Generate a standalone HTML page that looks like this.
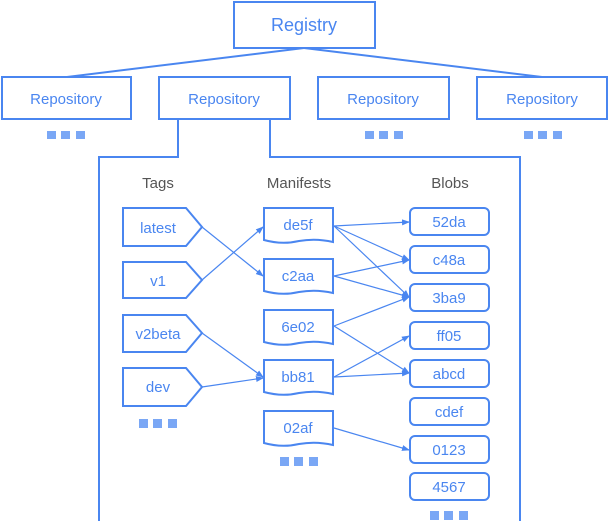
<!DOCTYPE html>
<html><head><style>
body{margin:0;background:#fff}
svg{display:block}
text{font-family:"Liberation Sans",sans-serif}
</style></head><body>
<svg width="609" height="521" viewBox="0 0 609 521" xmlns="http://www.w3.org/2000/svg">
<defs>
<marker id="a" markerWidth="8" markerHeight="8" refX="7" refY="4" orient="auto" markerUnits="userSpaceOnUse">
<path d="M0,1 L8,4 L0,7 z" fill="#4a86f0"/>
</marker>
</defs>
<g fill="none" stroke="#4a86f0" stroke-width="2">
<rect x="234" y="2" width="141" height="46"/>
<line x1="304" y1="48" x2="67" y2="77"/>
<line x1="304" y1="48" x2="542" y2="77"/>
<rect x="2" y="77" width="129" height="42"/>
<rect x="159" y="77" width="131" height="42"/>
<rect x="318" y="77" width="131" height="42"/>
<rect x="477" y="77" width="130" height="42"/>
<polyline points="178,119 178,157 99,157 99,521"/>
<polyline points="270,119 270,157 520,157 520,521"/>
<!-- tags -->
<path d="M123,208 H186 L202,227 L186,246 H123 Z"/>
<path d="M123,262 H186 L202,280 L186,298 H123 Z"/>
<path d="M123,315 H186 L202,333 L186,352 H123 Z"/>
<path d="M123,368 H186 L202,387 L186,406 H123 Z"/>
<!-- manifests -->
<path d="M264,208 H333 V242 Q316,238 299,241 Q282,245 264,240 Z"/>
<path d="M264,259 H333 V293 Q316,289 299,292 Q282,296 264,291 Z"/>
<path d="M264,310 H333 V344 Q316,340 299,343 Q282,347 264,342 Z"/>
<path d="M264,360 H333 V394 Q316,390 299,393 Q282,397 264,392 Z"/>
<path d="M264,411 H333 V445 Q316,441 299,444 Q282,448 264,443 Z"/>
<!-- blobs -->
<rect x="410" y="208" width="79" height="27" rx="5"/>
<rect x="410" y="246" width="79" height="27" rx="5"/>
<rect x="410" y="284" width="79" height="27" rx="5"/>
<rect x="410" y="322" width="79" height="27" rx="5"/>
<rect x="410" y="360" width="79" height="27" rx="5"/>
<rect x="410" y="398" width="79" height="27" rx="5"/>
<rect x="410" y="436" width="79" height="27" rx="5"/>
<rect x="410" y="473" width="79" height="27" rx="5"/>
</g>
<g stroke="#4a86f0" stroke-width="1.2" marker-end="url(#a)">
<line x1="202" y1="227" x2="263" y2="276"/>
<line x1="202" y1="280" x2="263" y2="227"/>
<line x1="202" y1="333" x2="263" y2="377"/>
<line x1="202" y1="387" x2="263" y2="378"/>
<line x1="334" y1="226" x2="409" y2="222"/>
<line x1="334" y1="226" x2="409" y2="260"/>
<line x1="334" y1="226" x2="409" y2="297"/>
<line x1="334" y1="276" x2="409" y2="260"/>
<line x1="334" y1="276" x2="409" y2="297"/>
<line x1="334" y1="326" x2="409" y2="297"/>
<line x1="334" y1="326" x2="409" y2="373"/>
<line x1="334" y1="377" x2="409" y2="336"/>
<line x1="334" y1="377" x2="409" y2="373"/>
<line x1="334" y1="428" x2="409" y2="450"/>
</g>
<g fill="#7aa7f5">
<rect x="47" y="131" width="9" height="8"/><rect x="61" y="131" width="9" height="8"/><rect x="76" y="131" width="9" height="8"/>
<rect x="365" y="131" width="9" height="8"/><rect x="379" y="131" width="9" height="8"/><rect x="394" y="131" width="9" height="8"/>
<rect x="524" y="131" width="9" height="8"/><rect x="538" y="131" width="9" height="8"/><rect x="553" y="131" width="9" height="8"/>
<rect x="139" y="419" width="9" height="9"/><rect x="153" y="419" width="9" height="9"/><rect x="168" y="419" width="9" height="9"/>
<rect x="280" y="457" width="9" height="9"/><rect x="294" y="457" width="9" height="9"/><rect x="309" y="457" width="9" height="9"/>
<rect x="430" y="511" width="9" height="9"/><rect x="444" y="511" width="9" height="9"/><rect x="459" y="511" width="9" height="9"/>
</g>
<g fill="#4a86f0" text-anchor="middle" font-size="15">
<text x="304" y="31" font-size="18">Registry</text>
<text x="66" y="104">Repository</text>
<text x="224" y="104">Repository</text>
<text x="383" y="104">Repository</text>
<text x="542" y="104">Repository</text>
<text x="158" y="233">latest</text>
<text x="158" y="286">v1</text>
<text x="158" y="339">v2beta</text>
<text x="158" y="392">dev</text>
<text x="298" y="230">de5f</text>
<text x="298" y="281">c2aa</text>
<text x="298" y="332">6e02</text>
<text x="298" y="382">bb81</text>
<text x="298" y="433">02af</text>
<text x="449" y="227">52da</text>
<text x="449" y="265">c48a</text>
<text x="449" y="303">3ba9</text>
<text x="449" y="341">ff05</text>
<text x="449" y="379">abcd</text>
<text x="449" y="417">cdef</text>
<text x="449" y="455">0123</text>
<text x="449" y="492">4567</text>
</g>
<g fill="#555" text-anchor="middle" font-size="15">
<text x="158" y="188">Tags</text>
<text x="299" y="188">Manifests</text>
<text x="450" y="188">Blobs</text>
</g>
</svg>
</body></html>
